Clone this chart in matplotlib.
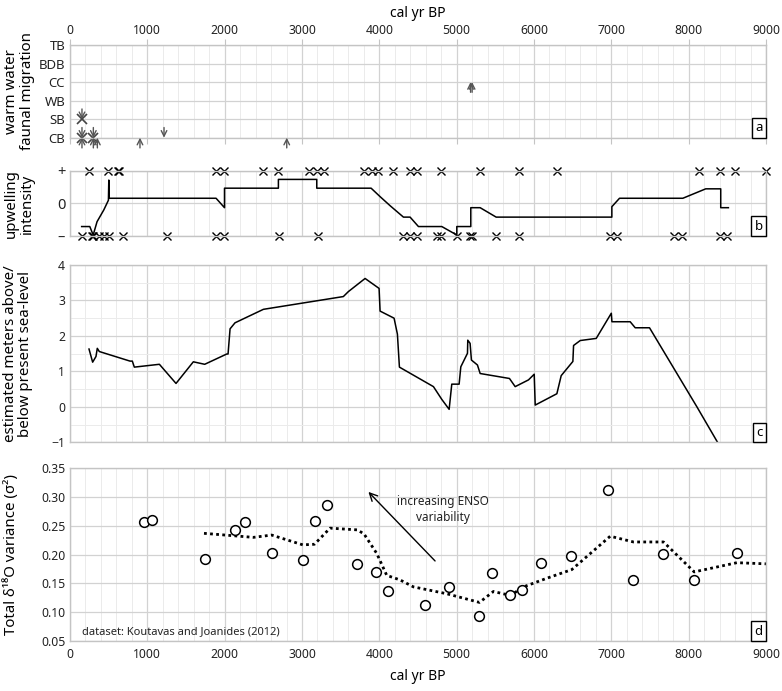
import matplotlib
matplotlib.use('Agg')
import matplotlib.pyplot as plt
from matplotlib.ticker import MultipleLocator, FormatStrFormatter
from matplotlib.offsetbox import AnchoredText

plt.rcParams['font.family'] = ['Noto Sans', 'DejaVu Sans']

# panel a - warm water faunal migration
sites = ['CB', 'SB', 'WB', 'CC', 'BDB', 'TB']
cross_x = [155, 155, 302]
cross_site = ['SB', 'CB', 'CB']
up_x = [155, 302, 354, 905, 2803, 5180, 5200]
up_site = ['CB', 'CB', 'CB', 'CB', 'CB', 'CC', 'CC']
down_x = [155, 155, 302, 1216]
down_site = ['SB', 'CB', 'CB', 'CB']

# panel b - upwelling intensity
upw_x = [151, 256, 300, 350, 437, 497, 502, 505, 1889, 1998, 1998, 2695, 2695, 3191, 3191,
         3894, 4010, 4140, 4312, 4398, 4506, 4808, 5002, 5002, 5183, 5183, 5304, 5511,
         7007, 7007, 7106, 7925, 8221, 8415, 8415, 8514]
upw_y = [-0.71, -0.71, -0.97, -0.56, -0.2, 0.1, 0.72, 0.16, 0.16, -0.13, 0.47, 0.47, 0.74, 0.74, 0.47,
         0.47, 0.21, -0.07, -0.42, -0.42, -0.71, -0.71, -0.97, -0.71, -0.71, -0.13, -0.13, -0.42,
         -0.42, -0.1, 0.16, 0.16, 0.45, 0.45, -0.13, -0.13]
plus_x = [250, 496, 620, 630, 1889, 1992, 2501, 2695, 3096, 3191, 3286, 3803, 3902, 3988,
          4183, 4398, 4485, 4796, 5296, 5800, 6304, 8140, 8400, 8603, 9000]
minus_x = [151, 280, 300, 380, 440, 510, 690, 1250, 1889, 1992, 2708, 3212, 4312, 4398, 4493,
           4743, 4796, 5002, 5174, 5196, 5511, 5800, 6986, 7072, 7805, 7913, 8409, 8495]

# panel c - sea level
sl_x = [246, 293, 336, 353, 379, 776, 806, 832, 1156, 1371, 1595, 1742, 2027, 2044, 2070,
        2134, 2501, 3535, 3600, 3816, 3997, 4010, 4191, 4234, 4260, 4700, 4808, 4903, 4937, 5032,
        5054, 5140, 5144, 5174, 5191, 5269, 5304, 5683, 5757, 5929, 6003, 6016, 6296, 6352, 6503,
        6512, 6598, 6805, 7000, 7008, 7244, 7309, 7494, 8107, 8374]
sl_y = [1.63, 1.26, 1.42, 1.65, 1.56, 1.29, 1.29, 1.12, 1.20, 0.66, 1.27, 1.20, 1.49, 1.49, 2.20,
        2.37, 2.75, 3.11, 3.25, 3.62, 3.34, 2.70, 2.50, 2.05, 1.12, 0.57, 0.21, -0.07, 0.64, 0.64,
        1.13, 1.51, 1.88, 1.79, 1.32, 1.18, 0.94, 0.80, 0.57, 0.76, 0.92, 0.05, 0.37, 0.88, 1.28,
        1.73, 1.87, 1.93, 2.64, 2.40, 2.40, 2.23, 2.23, 0.0, -1.0]

# panel d - d18O variance (Koutavas and Joanides 2012)
var_x = [957, 1061, 1751, 2139, 2259, 2608, 3010, 3165, 3325, 3716, 3959, 4118, 4592, 4907,
         5295, 5459, 5696, 5847, 6089, 6485, 6960, 7283, 7671, 8072, 8620]
var_y = [0.257, 0.260, 0.192, 0.242, 0.257, 0.202, 0.191, 0.258, 0.287, 0.183, 0.169, 0.137,
         0.112, 0.144, 0.094, 0.168, 0.129, 0.138, 0.186, 0.198, 0.312, 0.156, 0.201, 0.156, 0.202]
trend_x = [1733, 2371, 2608, 3010, 3161, 3363, 3716, 3802, 3967, 4096, 4269, 4441, 4873, 5295,
           5476, 5696, 5865, 6167, 6489, 6986, 7287, 7675, 8072, 8624, 9000]
trend_y = [0.237, 0.230, 0.234, 0.217, 0.218, 0.246, 0.243, 0.236, 0.202, 0.164, 0.156, 0.144,
           0.132, 0.117, 0.136, 0.129, 0.144, 0.159, 0.174, 0.232, 0.222, 0.222, 0.170, 0.186, 0.184]

fig = plt.figure(figsize=(7.82, 6.91), dpi=100)
L, W = 0.0895, 0.890
ax_a = fig.add_axes([L, 0.8007, W, 0.1342])
ax_b = fig.add_axes([L, 0.6585, W, 0.0941])
ax_c = fig.add_axes([L, 0.3599, W, 0.2566])
ax_d = fig.add_axes([L, 0.0724, W, 0.2499])

grid_major = '#d2d2d2'
grid_minor = '#ebebeb'
tick_col = '#222222'


def style(ax, label):
    ax.set_xlim(0, 9000)
    ax.xaxis.set_major_locator(MultipleLocator(1000))
    ax.xaxis.set_minor_locator(MultipleLocator(200))
    ax.grid(which='major', color=grid_major, lw=0.9)
    ax.grid(which='minor', axis='x', color=grid_minor, lw=0.7)
    ax.set_axisbelow(True)
    for s in ax.spines.values():
        s.set_color('#c4c4c4')
        s.set_linewidth(1)
    ax.tick_params(which='both', length=0, labelsize=8.8, labelcolor=tick_col)
    ax.tick_params(axis='x', labelbottom=False)
    at = AnchoredText(label, loc='lower right', borderpad=0, pad=0.25,
                      prop=dict(size=9.5), frameon=True)
    at.patch.set_edgecolor('black')
    at.patch.set_linewidth(1)
    ax.add_artist(at)


# panel a
style(ax_a, 'a')
ax_a.set_ylim(0, 5)
ax_a.set_yticks(range(len(sites)))
ax_a.set_yticklabels(sites, fontsize=9.5)
ax_a.tick_params(axis='x', labeltop=True, top=True, length=4, color='#c4c4c4', pad=2)
ax_a.tick_params(axis='x', which='minor', length=0)
ax_a.set_xlabel('cal yr BP', fontsize=10, labelpad=5)
ax_a.xaxis.set_label_position('top')
arrow_col = '#555555'
for x, s in zip(up_x, up_site):
    y = sites.index(s)
    ax_a.annotate('', xy=(x, y), xytext=(x, y - 0.55), annotation_clip=False,
                  arrowprops=dict(arrowstyle='->', color=arrow_col, lw=1, shrinkA=0, shrinkB=0))
for x, s in zip(down_x, down_site):
    y = sites.index(s)
    ax_a.annotate('', xy=(x, y), xytext=(x, y + 0.55), annotation_clip=False,
                  arrowprops=dict(arrowstyle='->', color=arrow_col, lw=1, shrinkA=0, shrinkB=0))
ax_a.plot(cross_x, [sites.index(s) for s in cross_site], 'x', color='#444444', ms=7, mew=1.2,
          clip_on=False)

# panel b
style(ax_b, 'b')
ax_b.set_ylim(-1, 1)
ax_b.set_yticks([-1, 0, 1])
ax_b.set_yticklabels(['\u2013', '0', '+'], fontsize=10.5)
ax_b.plot(upw_x, upw_y, color='black', lw=1.1)
ax_b.plot(plus_x, [1] * len(plus_x), 'x', color='black', ms=6, mew=1, clip_on=False)
ax_b.plot(minus_x, [-1] * len(minus_x), 'x', color='black', ms=6, mew=1, clip_on=False)

# panel c
style(ax_c, 'c')
ax_c.set_ylim(-1, 4)
ax_c.yaxis.set_major_locator(MultipleLocator(1))
ax_c.yaxis.set_minor_locator(MultipleLocator(0.5))
ax_c.grid(which='minor', axis='y', color=grid_minor, lw=0.7)
ax_c.plot(sl_x, sl_y, color='black', lw=1.1)

# panel d
style(ax_d, 'd')
ax_d.set_ylim(0.05, 0.35)
ax_d.yaxis.set_major_locator(MultipleLocator(0.05))
ax_d.yaxis.set_major_formatter(FormatStrFormatter('%.2f'))
ax_d.tick_params(axis='x', labelbottom=True, pad=5)
ax_d.set_xlabel('cal yr BP', fontsize=10, labelpad=6)
ax_d.plot(trend_x, trend_y, color='black', lw=2, linestyle=(0, (1, 1.2)))
ax_d.plot(var_x, var_y, 'o', mfc='white', mec='black', ms=7, mew=1.1)
ax_d.annotate('', xy=(3859, 0.309), xytext=(4721, 0.189),
              arrowprops=dict(arrowstyle='->', color='black', lw=1, mutation_scale=14,
                              shrinkA=0, shrinkB=0))
ax_d.text(4825, 0.279, 'increasing ENSO\nvariability', ha='center', va='center',
          fontsize=8.5, color='#222222', linespacing=1.3)
ax_d.text(150, 0.066, 'dataset: Koutavas and Joanides (2012)', ha='left', va='center',
          fontsize=8, color='#222222')

# y labels
fig.text(0.025, 0.868, 'warm water\nfaunal migration', rotation=90, ha='center', va='center',
         fontsize=10.8, linespacing=1.05)
fig.text(0.025, 0.7055, 'upwelling\nintensity', rotation=90, ha='center', va='center',
         fontsize=10.8, linespacing=1.05)
fig.text(0.023, 0.488, 'estimated meters above/\nbelow present sea-level', rotation=90,
         ha='center', va='center', fontsize=10.8, linespacing=1.05)
fig.text(0.014, 0.197, 'Total \u03b4\u00b9\u2078O variance (\u03c3\u00b2)', rotation=90,
         ha='center', va='center', fontsize=10.8)

fig.savefig('out.png', dpi=100)
